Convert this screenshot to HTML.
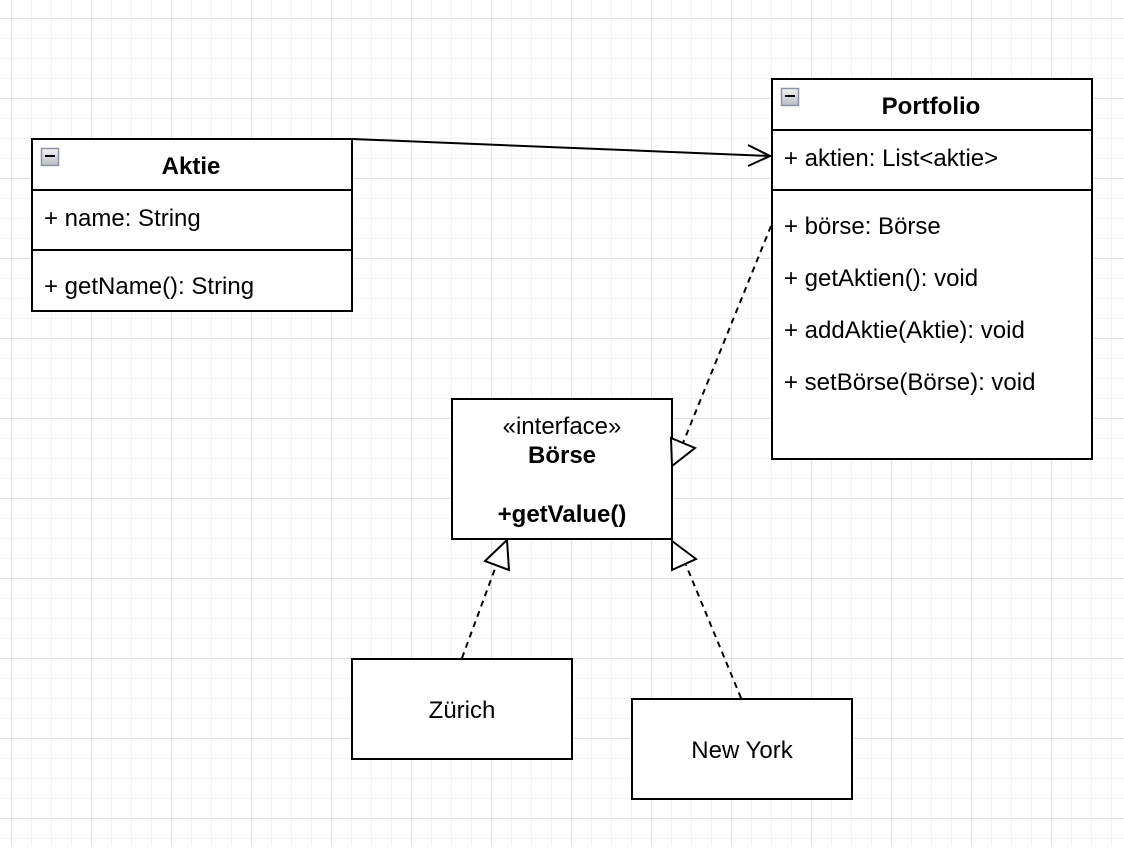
<!DOCTYPE html>
<html><head><meta charset="utf-8"><style>
body{margin:0;width:1124px;height:846px;overflow:hidden;background:#fff;}
</style></head><body>
<svg width="1124" height="846" xmlns="http://www.w3.org/2000/svg" font-family="Liberation Sans, Arial, sans-serif" font-size="24">
<defs>
<pattern id="mi" width="20" height="20" patternUnits="userSpaceOnUse" x="11" y="18">
<path d="M0 0H20M0 0V20" stroke="#efefef" stroke-width="1.5" fill="none"/></pattern>
<pattern id="ma" width="80" height="80" patternUnits="userSpaceOnUse" x="11" y="18">
<path d="M0 0H80M0 0V80" stroke="#d2d2d2" stroke-width="1.2" fill="none"/></pattern>
<linearGradient id="g" x1="0" y1="0" x2="0" y2="1"><stop offset="0" stop-color="#f4f4f4"/><stop offset="1" stop-color="#b8bcc4"/></linearGradient>
</defs>
<rect width="1124" height="846" fill="url(#mi)"/>
<rect width="1124" height="846" fill="url(#ma)"/>
<g stroke="#000" stroke-width="2" fill="#fff">
<rect x="32" y="139" width="320" height="172"/>
<line x1="32" y1="190" x2="352" y2="190"/><line x1="32" y1="250" x2="352" y2="250"/>
<rect x="772" y="79" width="320" height="380"/>
<line x1="772" y1="130" x2="1092" y2="130"/><line x1="772" y1="190" x2="1092" y2="190"/>
<rect x="452" y="399" width="220" height="140"/>
<rect x="352" y="659" width="220" height="100"/>
<rect x="632" y="699" width="220" height="100"/>
</g>
<g stroke="#8a94a6" stroke-width="1.5" fill="url(#g)">
<rect x="41.5" y="148.5" width="17" height="17"/><rect x="781.5" y="88.5" width="17" height="17"/>
</g>
<g stroke="#000" stroke-width="2"><line x1="45" y1="156" x2="55" y2="156"/><line x1="785" y1="96" x2="795" y2="96"/></g>
<g fill="none" stroke="#000" stroke-width="2">
<path d="M352 139 L770 156"/><path d="M748 145 L770 156 L748 166"/>
<path d="M771 226 L683 443" stroke-dasharray="6,5"/>
<path d="M671 438 L695 448 L672 466 Z" fill="#fff"/>
<path d="M462 658 L496 566" stroke-dasharray="6,5"/>
<path d="M507 540 L485 561 L509 570 Z" fill="#fff"/>
<path d="M741 698 L686 565" stroke-dasharray="6,5"/>
<path d="M672 541 L696 559 L672 570 Z" fill="#fff"/>
</g>
<g fill="#000">
<text x="191" y="174" font-weight="bold" text-anchor="middle">Aktie</text>
<text x="44" y="226">+ name: String</text>
<text x="44" y="294">+ getName(): String</text>
<text x="931" y="114" font-weight="bold" text-anchor="middle">Portfolio</text>
<text x="784" y="166">+ aktien: List&lt;aktie&gt;</text>
<text x="784" y="234">+ börse: Börse</text>
<text x="784" y="286">+ getAktien(): void</text>
<text x="784" y="338">+ addAktie(Aktie): void</text>
<text x="784" y="390">+ setBörse(Börse): void</text>
<text x="562" y="434" text-anchor="middle">«interface»</text>
<text x="562" y="463" font-weight="bold" text-anchor="middle">Börse</text>
<text x="562" y="522" font-weight="bold" text-anchor="middle">+getValue()</text>
<text x="462" y="718" text-anchor="middle">Zürich</text>
<text x="742" y="758" text-anchor="middle">New York</text>
</g>
</svg>
</body></html>
